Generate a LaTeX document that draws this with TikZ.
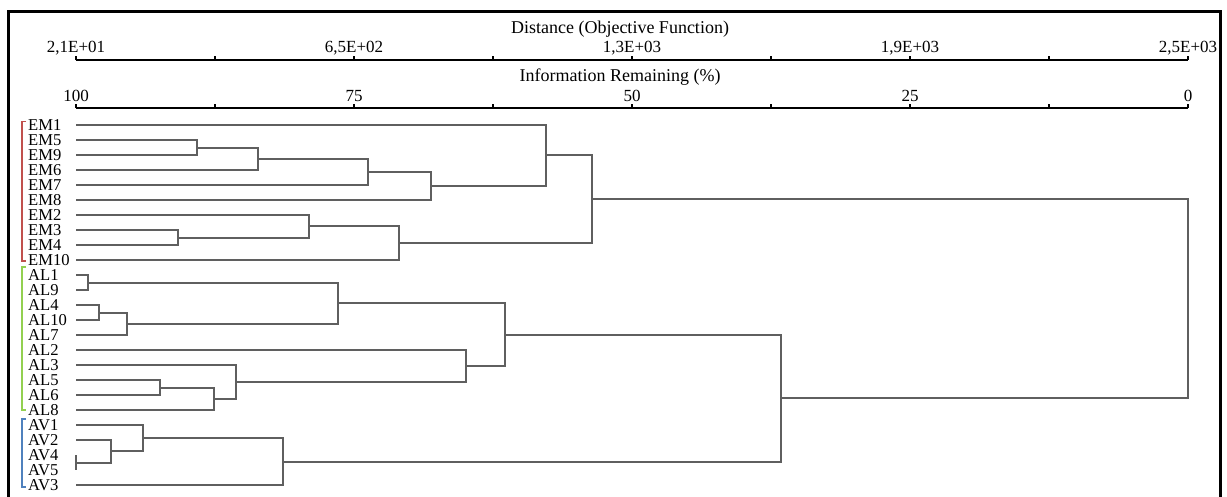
\documentclass[tikz,border=0pt]{standalone}
\usepackage{fontspec}
\setmainfont{Liberation Serif}
\definecolor{dgray}{RGB}{95,95,95}
\definecolor{bred}{RGB}{192,80,77}
\definecolor{bgreen}{RGB}{146,208,80}
\definecolor{bblue}{RGB}{79,129,189}
\begin{document}
\begin{tikzpicture}[x=1pt,y=-1pt,
  dend/.style={draw=dgray,line width=1.3pt},
  axisline/.style={draw=black,line width=1.7pt},
  framebox/.style={draw=black,line width=3pt},
  bracketline/.style={line width=1.8pt},
  leaflabel/.style={anchor=base west,inner sep=0pt,font=\fontsize{16.6}{16.6}\selectfont},
  ticklabel/.style={anchor=base,inner sep=0pt,font=\fontsize{17}{17}\selectfont},
  titlelabel/.style={anchor=base,inner sep=0pt,font=\fontsize{18}{18}\selectfont}]
\useasboundingbox (0,0) rectangle (1227,496);
\clip (0,0) rectangle (1227,496);
% frame
\draw[framebox] (8.5,520) |- (1220,11.5) -- (1220,520);
% axes
\node[titlelabel] (dtitle) at (620,33) {Distance (Objective Function)};
\node[titlelabel] (ititle) at (620,81.5) {Information Remaining (\%)};
\draw[axisline] (76,60) -- (1188,60);
\draw[axisline] (76,108) -- (1188,108);
\foreach \k in {0,...,8}{
  \draw[axisline] ({76+139*\k},60) -- ++(0,-4);
  \draw[axisline] ({76+139*\k},108) -- ++(0,-4);
}
\node[ticklabel] (d0) at (76,52.5) {2,1E+01};
\node[ticklabel] (d1) at (354,52.5) {6,5E+02};
\node[ticklabel] (d2) at (632,52.5) {1,3E+03};
\node[ticklabel] (d3) at (910,52.5) {1,9E+03};
\node[ticklabel] (d4) at (1188,52.5) {2,5E+03};
\node[ticklabel] (p0) at (76,101.5) {100};
\node[ticklabel] (p1) at (354,101.5) {75};
\node[ticklabel] (p2) at (632,101.5) {50};
\node[ticklabel] (p3) at (910,101.5) {25};
\node[ticklabel] (p4) at (1188,101.5) {0};
% leaves
\foreach \n [count=\i from 0] in {EM1,EM5,EM9,EM6,EM7,EM8,EM2,EM3,EM4,EM10,AL1,AL9,AL4,AL10,AL7,AL2,AL3,AL5,AL6,AL8,AV1,AV2,AV4,AV5,AV3}{
  \node[leaflabel] (\n) at (28,{130.8+15*\i}) {\n};
  \coordinate (L\i) at (76,{125+15*\i});
}
% group brackets
\draw[bracketline,bred] (26,121.5) -| (22,261) -- (26,261);
\draw[bracketline,bgreen] (26,267) -| (22,410) -- (26,410);
\draw[bracketline,bblue] (26,419) -| (22,487) -- (26,487);
% merge points
\coordinate (e59) at (197,{round(125+15*1.5)});
\coordinate (e596) at (258,{round(125+15*2.25)});
\coordinate (e5967) at (368,{round(125+15*3.125)});
\coordinate (e59678) at (431,{round(125+15*4.0625)});
\coordinate (eA) at (546,{round(125+15*2.03125)});
\coordinate (e34) at (178,{round(125+15*7.5)});
\coordinate (e234) at (309,{round(125+15*6.75)});
\coordinate (eB) at (399,{round(125+15*7.875)});
\coordinate (EMc) at (592,{round(125+15*4.953125)});
\coordinate (a19) at (88,{round(125+15*10.5)});
\coordinate (a410) at (99,{round(125+15*12.5)});
\coordinate (a4107) at (127,{round(125+15*13.25)});
\coordinate (aA) at (338,{round(125+15*11.875)});
\coordinate (a56) at (160,{round(125+15*17.5)});
\coordinate (a568) at (214,{round(125+15*18.25)});
\coordinate (a3568) at (236,{round(125+15*17.125)});
\coordinate (aB) at (466,{round(125+15*16.0625)});
\coordinate (ALc) at (505,{round(125+15*13.96875)});
\coordinate (v45) at (76,{round(125+15*22.5)});
\coordinate (v245) at (111,{round(125+15*21.75)});
\coordinate (v1245) at (143,{round(125+15*20.875)});
\coordinate (AVc) at (283,{round(125+15*22.4375)});
\coordinate (ALAV) at (781,{round(125+15*18.203125)});
\coordinate (root) at (1188,{round(125+15*11.578125)});
% dendrogram
\draw[dend] (L1) -| (e59) |- (L2);
\draw[dend] (e59) -| (e596) |- (L3);
\draw[dend] (e596) -| (e5967) |- (L4);
\draw[dend] (e5967) -| (e59678) |- (L5);
\draw[dend] (L0) -| (eA) |- (e59678);
\draw[dend] (L7) -| (e34) |- (L8);
\draw[dend] (L6) -| (e234) |- (e34);
\draw[dend] (e234) -| (eB) |- (L9);
\draw[dend] (eA) -| (EMc) |- (eB);
\draw[dend] (L10) -| (a19) |- (L11);
\draw[dend] (L12) -| (a410) |- (L13);
\draw[dend] (a410) -| (a4107) |- (L14);
\draw[dend] (a19) -| (aA) |- (a4107);
\draw[dend] (L17) -| (a56) |- (L18);
\draw[dend] (a56) -| (a568) |- (L19);
\draw[dend] (L16) -| (a3568) |- (a568);
\draw[dend] (L15) -| (aB) |- (a3568);
\draw[dend] (aA) -| (ALc) |- (aB);
\draw[dend] (L22) -| (v45) |- (L23);
\draw[dend] (L21) -| (v245) |- (v45);
\draw[dend] (L20) -| (v1245) |- (v245);
\draw[dend] (v1245) -| (AVc) |- (L24);
\draw[dend] (ALc) -| (ALAV) |- (AVc);
\draw[dend] (EMc) -| (root) |- (ALAV);
\end{tikzpicture}
\end{document}
